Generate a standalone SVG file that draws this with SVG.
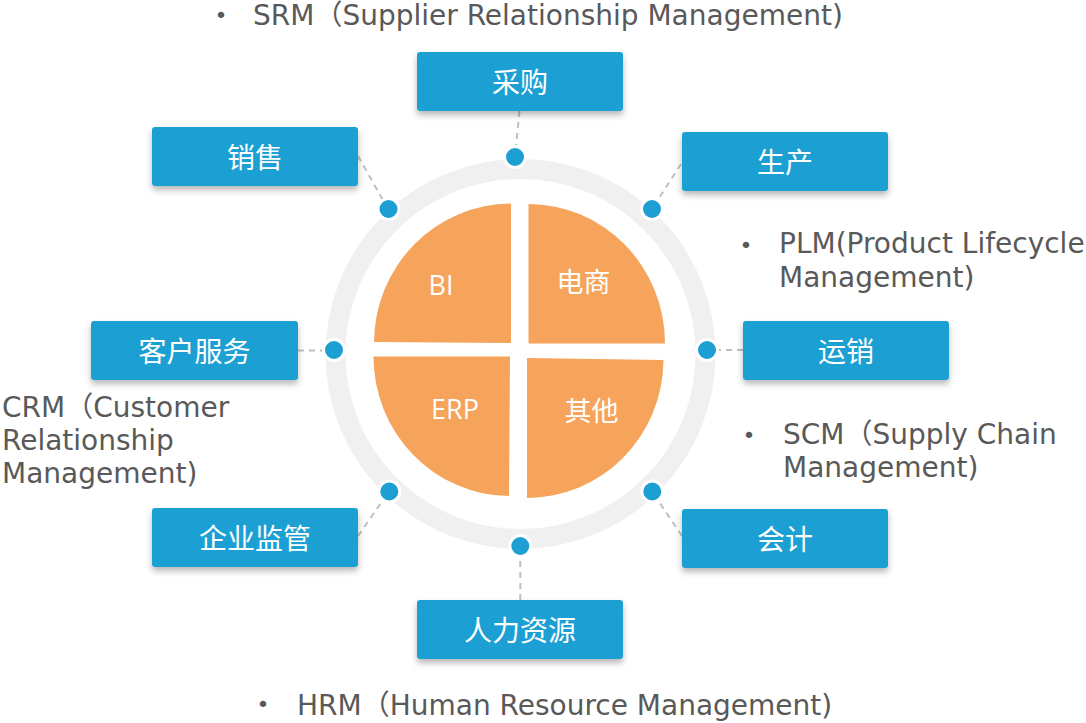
<svg xmlns="http://www.w3.org/2000/svg" width="1086" height="723" viewBox="0 0 1086 723">
<style>
.box{fill:#1E9FD3;filter:url(#sh)}
.bt{font-family:"Noto Sans CJK SC","Noto Sans",sans-serif;font-size:28px;fill:#ffffff;text-anchor:middle}
.pt{font-family:"Open Sans","Noto Sans CJK SC",sans-serif;font-size:27px;fill:#ffffff;text-anchor:middle}
.pie{fill:#F6A45B}
.dot{fill:#1E9FD3;stroke:#ffffff;stroke-width:3}
.con{stroke:#BFBFBF;stroke-width:2;stroke-dasharray:6 5;fill:none}
.desc{font-family:"DejaVu Sans","Noto Sans CJK SC",sans-serif;font-size:28px;fill:#595959}
.bul{font-family:"DejaVu Sans",sans-serif;font-size:22px;fill:#595959;text-anchor:middle}
</style>
<defs>
<filter id="sh" x="-10%" y="-20%" width="120%" height="150%">
<feDropShadow dx="0" dy="4" stdDeviation="3" flood-color="#000000" flood-opacity="0.28"/>
</filter>
</defs>
<rect width="1086" height="723" fill="#ffffff"/>
<g id="ring">
<circle cx="520.5" cy="354" r="185" fill="none" stroke="#F0F0F0" stroke-width="20"/>
</g>
<g id="pie-bi">
<path class="pie" d="M511,203.5 L511,343 L374,342 A137.5,139.5 0 0 1 511,203.5 Z"/>
<text class="pt" x="441" y="295">BI</text>
</g>
<g id="pie-ds">
<path class="pie" d="M528.5,204 A136.5,139.5 0 0 1 665,343.5 L528.5,343.5 Z"/>
<text class="pt" x="583.5" y="292">电商</text>
</g>
<g id="pie-erp">
<path class="pie" d="M373.5,356.5 L510,356.5 L509,496 A136.5,139.5 0 0 1 373.5,356.5 Z"/>
<text class="pt" x="455" y="419">ERP</text>
</g>
<g id="pie-qt">
<path class="pie" d="M527,358 L663.5,360 A136.5,139 0 0 1 527,498 Z"/>
<text class="pt" x="591.5" y="420.5">其他</text>
</g>
<g id="connectors">
<line class="con" x1="519.5" y1="111" x2="515" y2="157"/>
<line class="con" x1="358" y1="156" x2="388" y2="209"/>
<line class="con" x1="681" y1="164" x2="652" y2="209"/>
<line class="con" x1="298" y1="350.5" x2="334" y2="350.5"/>
<line class="con" x1="743" y1="350" x2="707" y2="350"/>
<line class="con" x1="358" y1="536" x2="389" y2="491.5"/>
<line class="con" x1="682" y1="536" x2="652" y2="491.5"/>
<line class="con" x1="520.3" y1="600" x2="520.3" y2="546"/>
</g>
<g id="dots">
<circle class="dot" cx="515" cy="157" r="10.5"/>
<circle class="dot" cx="388.5" cy="209" r="10.5"/>
<circle class="dot" cx="652" cy="209" r="10.5"/>
<circle class="dot" cx="334" cy="350" r="10.5"/>
<circle class="dot" cx="707" cy="350" r="10.5"/>
<circle class="dot" cx="389.3" cy="491.5" r="10.5"/>
<circle class="dot" cx="652.3" cy="491.5" r="10.5"/>
<circle class="dot" cx="520.3" cy="546" r="10.5"/>
</g>
<g id="node-caigou">
<rect class="box" x="417" y="52" width="206" height="59" rx="3"/>
<text class="bt" x="520" y="93">采购</text>
</g>
<g id="node-xiaoshou">
<rect class="box" x="152" y="127" width="206" height="59" rx="3"/>
<text class="bt" x="255" y="168">销售</text>
</g>
<g id="node-shengchan">
<rect class="box" x="682" y="132" width="206" height="59" rx="3"/>
<text class="bt" x="785" y="173">生产</text>
</g>
<g id="node-kehufuwu">
<rect class="box" x="91" y="321" width="207" height="59" rx="3"/>
<text class="bt" x="194.5" y="362">客户服务</text>
</g>
<g id="node-yunxiao">
<rect class="box" x="743" y="321" width="206" height="59" rx="3"/>
<text class="bt" x="846" y="362">运销</text>
</g>
<g id="node-qiyejianguan">
<rect class="box" x="152" y="508" width="206" height="59" rx="3"/>
<text class="bt" x="255" y="549">企业监管</text>
</g>
<g id="node-kuaiji">
<rect class="box" x="682" y="509" width="206" height="59" rx="3"/>
<text class="bt" x="785" y="550">会计</text>
</g>
<g id="node-renliziyuan">
<rect class="box" x="417" y="600" width="206" height="59" rx="3"/>
<text class="bt" x="520" y="641">人力资源</text>
</g>
<g id="labels">
<text class="bul" x="221" y="23">•</text>
<text class="desc" x="253" y="25">SRM（Supplier Relationship Management)</text>
<text class="bul" x="746" y="253">•</text>
<text class="desc" x="779" y="253">PLM(Product Lifecycle</text>
<text class="desc" x="779" y="287">Management)</text>
<text class="desc" x="2" y="417">CRM（Customer</text>
<text class="desc" x="2" y="450">Relationship</text>
<text class="desc" x="2" y="483">Management)</text>
<text class="bul" x="749" y="443">•</text>
<text class="desc" x="783" y="444">SCM（Supply Chain</text>
<text class="desc" x="783" y="477">Management)</text>
<text class="bul" x="263" y="712">•</text>
<text class="desc" x="297" y="715">HRM（Human Resource Management)</text>
</g>
</svg>
